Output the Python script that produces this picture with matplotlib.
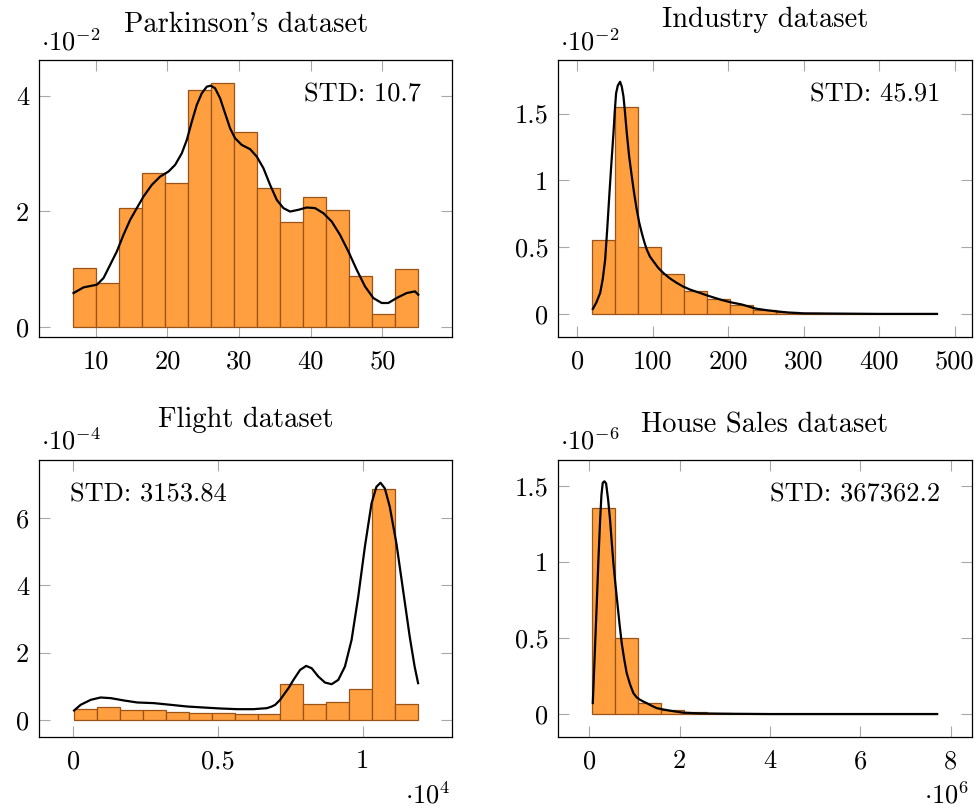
import numpy as np
import matplotlib
matplotlib.use("Agg")
import matplotlib.pyplot as plt

plt.rcParams['font.family'] = ['cmr10', 'DejaVu Serif']
plt.rcParams['mathtext.fontset'] = 'cm'
plt.rcParams['axes.unicode_minus'] = False
plt.rcParams['axes.formatter.use_mathtext'] = True

FS = 19
FS_TITLE = 20.5

# ---------------- data (values in displayed units) ----------------
titles = ["Parkinson's dataset", "Industry dataset", "Flight dataset", "House Sales dataset"]
std_texts = ["STD: 10.7", "STD: 45.91", "STD: 3153.84", "STD: 367362.2"]
y_exponents = ["-2", "-2", "-4", "-6"]
x_exponents = [None, None, "4", "6"]

# bin range (first edge, last edge), 15 bins
park_range = (6.87, 55.02)
park_heights = [1.019, 0.760, 2.055, 2.670, 2.486, 4.098, 4.224, 3.378, 2.400, 1.807,
                2.239, 2.026, 0.881, 0.224, 1.007]
park_kde_x = [6.88, 8.28, 10.14, 11.07, 12.0, 12.93, 13.86, 14.79, 15.72, 16.65, 17.81,
              18.98, 20.14, 21.07, 22.0, 22.70, 23.40, 24.09, 24.79, 25.49, 26.05, 26.65,
              27.35, 28.04, 28.74, 29.44, 30.37, 31.53, 32.47, 33.40, 34.33, 35.26, 36.19,
              37.12, 38.28, 39.45, 40.61, 41.77, 42.93, 44.09, 45.26, 46.42, 47.58, 48.74,
              49.91, 50.84, 52.0, 53.40, 54.56, 55.02]
park_kde_y = [0.587, 0.685, 0.731, 0.846, 1.076, 1.306, 1.594, 1.853, 2.055, 2.255, 2.457,
              2.601, 2.687, 2.803, 3.004, 3.234, 3.550, 3.839, 4.040, 4.155, 4.172, 4.127,
              3.954, 3.695, 3.436, 3.263, 3.148, 3.075, 2.946, 2.745, 2.457, 2.198, 2.055,
              1.996, 2.026, 2.066, 2.055, 1.968, 1.824, 1.594, 1.306, 0.990, 0.702, 0.501,
              0.415, 0.415, 0.501, 0.587, 0.616, 0.558]

ind_range = (19.9, 476.6)
ind_heights = [0.556, 1.552, 0.498, 0.299, 0.174, 0.110, 0.070, 0.027, 0.012, 0.005,
               0.002, 0.001, 0.0005, 0.0003, 0.0005]
ind_kde_x = [20.4, 25.0, 30.1, 33.5, 36.7, 39.5, 42.4, 45.0, 47.7, 49.5, 51.2, 53.5, 56.5,
             58.8, 61.0, 63.0, 65.4, 68.5, 72.0, 75.2, 78.6, 81.8, 85.3, 88.5, 91.9, 96.0,
             100.7, 107.0, 113.9, 122.0, 131.6, 140.0, 149.2, 162.4, 172.0, 182, 192, 203,
             218, 236, 250, 262, 280, 300, 325, 350, 400, 476.6]
ind_kde_y = [0.037, 0.085, 0.157, 0.260, 0.406, 0.640, 0.904, 1.130, 1.353, 1.520, 1.652,
             1.710, 1.738, 1.700, 1.627, 1.510, 1.353, 1.180, 1.029, 0.900, 0.780, 0.685,
             0.605, 0.540, 0.481, 0.430, 0.393, 0.345, 0.306, 0.268, 0.232, 0.205, 0.182,
             0.157, 0.138, 0.120, 0.103, 0.087, 0.070, 0.040, 0.028, 0.020, 0.010, 0.004,
             0.003, 0.002, 0.0, 0.0]

fl_range = (0.0023, 1.192)
fl_heights = [0.336, 0.395, 0.286, 0.286, 0.237, 0.217, 0.207, 0.188, 0.178, 1.076,
              0.484, 0.523, 0.918, 6.861, 0.484]
fl_kde_x = [0.0023, 0.025, 0.060, 0.094, 0.129, 0.175, 0.221, 0.278, 0.336, 0.393, 0.450,
            0.508, 0.566, 0.623, 0.669, 0.685, 0.698, 0.715, 0.728, 0.744, 0.761, 0.784,
            0.805, 0.824, 0.847, 0.870, 0.893, 0.916, 0.939, 0.962, 0.985, 1.008, 1.031,
            1.048, 1.062, 1.077, 1.094, 1.117, 1.140, 1.163, 1.180, 1.192]
fl_kde_y = [0.285, 0.454, 0.602, 0.671, 0.652, 0.582, 0.523, 0.504, 0.454, 0.404, 0.374,
            0.345, 0.325, 0.325, 0.355, 0.400, 0.454, 0.602, 0.760, 0.948, 1.193, 1.489,
            1.607, 1.538, 1.292, 1.114, 1.065, 1.193, 1.588, 2.378, 3.660, 5.140, 6.424,
            6.917, 7.035, 6.869, 6.325, 5.240, 3.858, 2.476, 1.588, 1.095]

hs_range = (0.074, 7.70)
hs_heights = [1.356, 0.502, 0.072, 0.027, 0.011, 0.006, 0.003, 0.002, 0.001, 0.0007,
              0.0005, 0.0003, 0.0002, 0.0001, 0.0002]
hs_kde_x = [0.081, 0.125, 0.169, 0.206, 0.243, 0.272, 0.301, 0.338, 0.375, 0.420, 0.463,
            0.500, 0.537, 0.581, 0.625, 0.673, 0.721, 0.776, 0.831, 0.905, 0.978, 1.05,
            1.125, 1.20, 1.272, 1.38, 1.493, 1.64, 1.787, 2.08, 2.45, 3.0, 4.0, 5.0, 6.0, 7.70]
hs_kde_y = [0.072, 0.400, 0.728, 1.020, 1.275, 1.440, 1.520, 1.530, 1.516, 1.410, 1.275,
            1.130, 0.991, 0.855, 0.728, 0.590, 0.466, 0.360, 0.269, 0.195, 0.138, 0.110,
            0.094, 0.082, 0.072, 0.055, 0.039, 0.030, 0.022, 0.009, 0.004, 0.002, 0.0,
            0.0, 0.0, 0.0]

xticks = [[10, 20, 30, 40, 50], [0, 100, 200, 300, 400, 500], [0, 0.5, 1], [0, 2, 4, 6, 8]]
xticklabels = [["10", "20", "30", "40", "50"], ["0", "100", "200", "300", "400", "500"],
               ["0", "0.5", "1"], ["0", "2", "4", "6", "8"]]
yticks = [[0, 2, 4], [0, 0.5, 1, 1.5], [0, 2, 4, 6], [0, 0.5, 1, 1.5]]
yticklabels = [["0", "2", "4"], ["0", "0.5", "1", "1.5"], ["0", "2", "4", "6"],
               ["0", "0.5", "1", "1.5"]]

# ---------------- style / layout ----------------
xlims = [(2.06, 59.8), (-25.8, 522.3), (-0.119, 1.311), (-0.689, 8.46)]
ylims = [(-0.173, 4.616), (-0.173, 1.901), (-0.50, 7.71), (-0.151, 1.670)]
W, H = 978, 810
ax_w, ax_h = 413.5, 277
positions = [(39, 60), (558, 60), (39, 460), (558, 460)]
std_align = ["right", "right", "left", "right"]
title_offsets = [27.7, 32.7, 32.7, 27.7]

fill_c = "#FF9F3F"
edge_c = "#9A5418"

fig = plt.figure(figsize=(W / 100, H / 100), dpi=100)

datasets = [
    (park_range, park_heights, park_kde_x, park_kde_y),
    (ind_range, ind_heights, ind_kde_x, ind_kde_y),
    (fl_range, fl_heights, fl_kde_x, fl_kde_y),
    (hs_range, hs_heights, hs_kde_x, hs_kde_y),
]

for i, (rng, heights, kx, ky) in enumerate(datasets):
    lx, ty = positions[i]
    ax = fig.add_axes([lx / W, 1 - (ty + ax_h) / H, ax_w / W, ax_h / H])
    edges = np.linspace(rng[0], rng[1], len(heights) + 1)
    ax.bar(edges[:-1], heights, width=np.diff(edges), align='edge',
           color=fill_c, edgecolor=edge_c, linewidth=0.9, zorder=2)
    ax.plot(kx, ky, color='black', linewidth=1.6, zorder=3,
            solid_joinstyle='round')
    ax.set_xlim(*xlims[i])
    ax.set_ylim(*ylims[i])
    ax.set_xticks(xticks[i])
    ax.set_xticklabels(xticklabels[i])
    ax.set_yticks(yticks[i])
    ax.set_yticklabels(yticklabels[i])
    ax.tick_params(direction='in', length=8, width=0.8, color='#a8a8a8',
                   top=True, right=True, labelsize=FS, pad=7)
    ax.tick_params(axis='x', pad=9)
    for s in ax.spines.values():
        s.set_linewidth(0.9)
        s.set_color('black')
    # title
    ax.text(0.5, 1 + title_offsets[i] / ax_h, titles[i], transform=ax.transAxes,
            ha='center', va='baseline', fontsize=FS_TITLE)
    # STD annotation
    if std_align[i] == 'right':
        ax.text(1 - 31 / ax_w, 1 - 41.7 / ax_h, std_texts[i], transform=ax.transAxes,
                ha='right', va='baseline', fontsize=FS)
    else:
        ax.text(31 / ax_w, 1 - 41.7 / ax_h, std_texts[i], transform=ax.transAxes,
                ha='left', va='baseline', fontsize=FS)
    # y exponent
    ax.text(2 / ax_w, 1 + 10 / ax_h, r'$\cdot 10^{%s}$' % y_exponents[i],
            transform=ax.transAxes, ha='left', va='baseline', fontsize=FS)
    if x_exponents[i] is not None:
        ax.text(1 - 2 / ax_w, -67 / ax_h, r'$\cdot 10^{%s}$' % x_exponents[i],
                transform=ax.transAxes, ha='right', va='baseline', fontsize=FS)

fig.savefig("out.png", dpi=100)
